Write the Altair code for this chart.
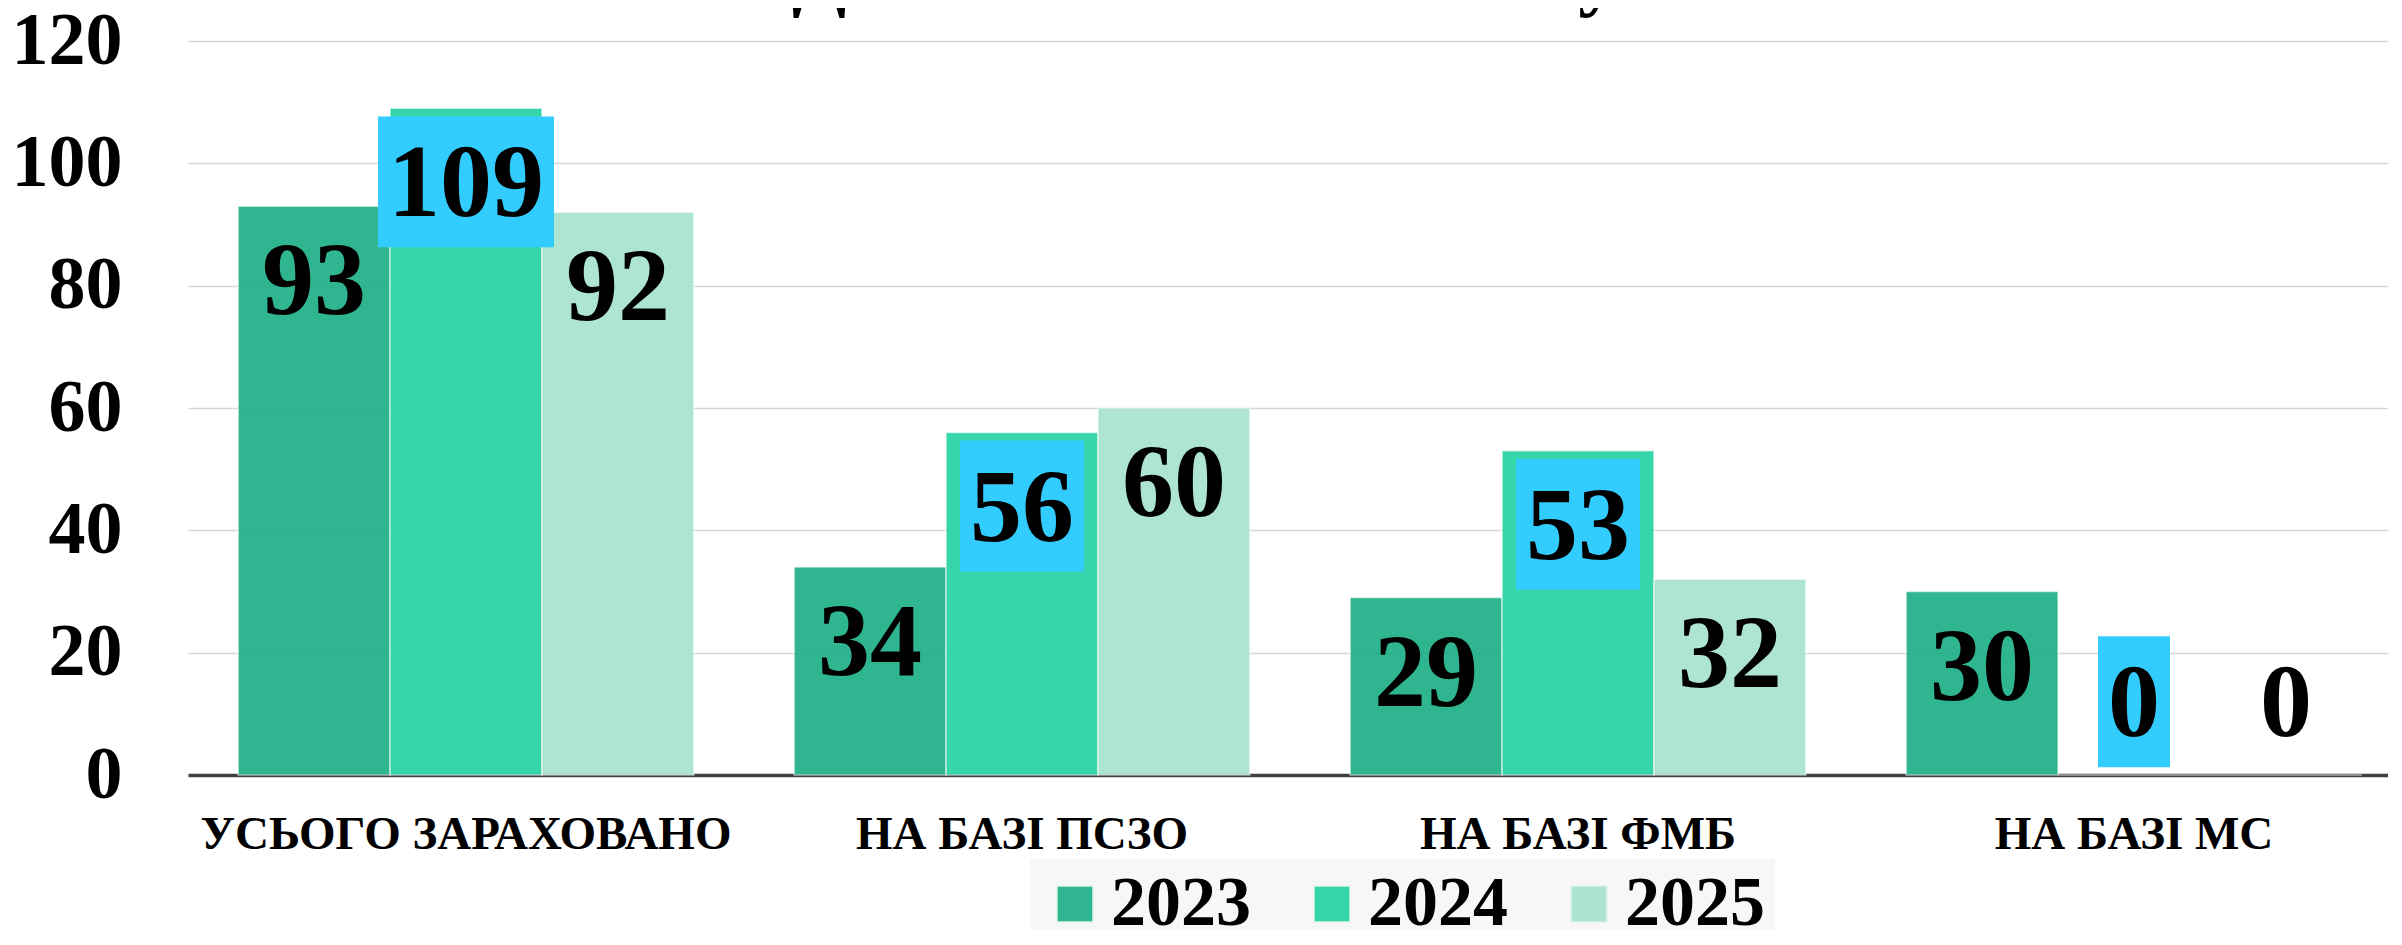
import altair as alt
import pandas as pd

# ---- data ----
categories = ["УСЬОГО ЗАРАХОВАНО", "НА БАЗІ ПСЗО", "НА БАЗІ ФМБ", "НА БАЗІ МС"]
years = ["2023", "2024", "2025"]
values_2023 = [93, 34, 29, 30]
values_2024 = [109, 56, 53, 0]
values_2025 = [92, 60, 32, 0]
y_ticks = [0, 20, 40, 60, 80, 100, 120]
title_text = "Динаміка контингенту"

rows = []
for yr, vals in zip(years, [values_2023, values_2024, values_2025]):
    for c, v in zip(categories, vals):
        rows.append({"cat": c, "year": yr, "value": v})
df = pd.DataFrame(rows)

FONT = "Liberation Serif"
colors = ["#1AAE86", "#22D1A1", "#A5E3CB"]

x_enc = alt.X(
    "cat:N",
    sort=categories,
    scale=alt.Scale(range=[0, 2224], paddingInner=0, paddingOuter=0),
    axis=alt.Axis(
        title=None, labelAngle=0, ticks=False, grid=False,
        domainColor="#404040", domainWidth=3.5,
        labelFont=FONT, labelFontWeight="bold", labelFontSize=47,
        labelColor="black", labelBaseline="alphabetic", labelPadding=73,
        labelLimit=0,
    ),
)
xo_enc = alt.XOffset("year:N", sort=years, scale=alt.Scale(paddingOuter=0.33, paddingInner=0))

y_axis = alt.Axis(
    title=None, values=y_ticks, domain=False, ticks=False,
    labelFont=FONT, labelFontWeight="bold", labelFontSize=74,
    labelColor="black", labelPadding=66,
    gridColor="#D6D6D6", gridWidth=1.5,
)

base = alt.Chart(df)

bars = base.mark_bar(opacity=0.9, stroke="#FFFFFF", strokeWidth=1.5, strokeOpacity=0.6).encode(
    x=x_enc,
    xOffset=xo_enc,
    y=alt.Y("value:Q", scale=alt.Scale(domain=[0, 120], nice=False), axis=y_axis),
    color=alt.Color(
        "year:N",
        scale=alt.Scale(domain=years, range=colors),
        legend=alt.Legend(
            title=None, orient="none", legendX=842, legendY=818,
            direction="horizontal", symbolType="square", symbolSize=1296,
            labelFont=FONT, labelFontWeight="bold", labelFontSize=70,
            labelColor="black", labelOffset=1, columnPadding=46,
            fillColor="#F7F7F7", padding=10, symbolOpacity=0.9,
            symbolStrokeWidth=1.5, symbolStrokeColor="#DDF5EC",
        ),
    ),
)

labelled = base.transform_calculate(
    ly="datum.value > 0 ? datum.value - 12.6 : 11.4"
)

boxes = labelled.transform_filter(alt.datum.year == "2024").transform_calculate(
    lo="datum.ly + 0.57 - 10.7",
    hi="datum.ly + 0.57 + 10.7",
    w="20 + 52 * length(toString(datum.value))",
).mark_bar(color="#33CCFF").encode(
    x=alt.X("cat:N", sort=categories),
    xOffset=alt.XOffset("year:N", sort=years),
    y=alt.Y("lo:Q"),
    y2=alt.Y2("hi:Q"),
    size=alt.Size("w:Q", scale=None),
)

texts = labelled.mark_text(
    font=FONT, fontWeight="bold", fontSize=104, baseline="middle",
    align="center", color="black",
).encode(
    x=alt.X("cat:N", sort=categories),
    xOffset=alt.XOffset("year:N", sort=years),
    y=alt.Y("ly:Q"),
    text=alt.Text("value:Q"),
)

title = alt.Chart(pd.DataFrame({"t": [title_text]})).mark_text(
    font=FONT, fontWeight="bold", fontSize=80, baseline="alphabetic",
    align="center", color="black",
).encode(text="t:N", x=alt.value(1017), y=alt.value(-40))

chart = alt.layer(bars, boxes, texts, title).properties(
    width=2200,
    height=734,
    autosize=alt.AutoSizeParams(type="none"),
    padding={"left": 180, "top": 33, "right": 0, "bottom": 155},
    background="white",
).configure_view(stroke=None)

chart.save("out.html", embed_options={"renderer": "svg", "actions": False})
